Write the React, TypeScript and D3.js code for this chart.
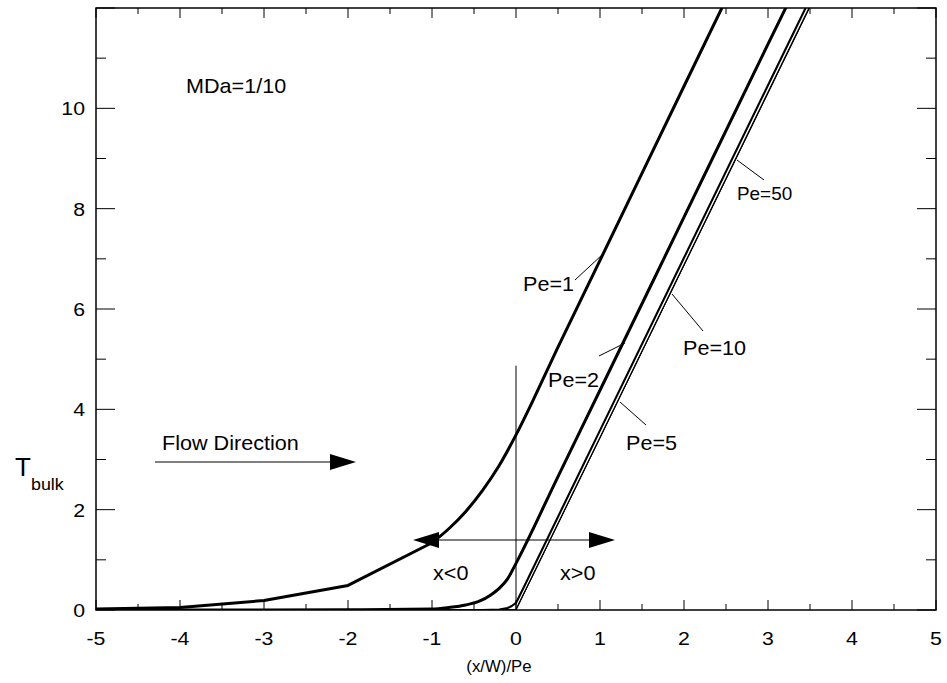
import { useRef, useEffect } from 'react';
import * as d3 from 'd3';

// T_bulk vs (x/W)/Pe
const pe1X = [-5, -4, -3, -2, -1, -0.8, -0.6, -0.4, -0.2, 0, 0.2, 0.5, 1, 2, 3];
const pe1T = [0.02, 0.05, 0.19, 0.49, 1.34, 1.62, 1.96, 2.38, 2.88, 3.49, 4.17, 5.24, 6.97, 10.44, 13.9];

const pe2X = [-5, -3, -2, -1, -0.8, -0.6, -0.43, -0.3, -0.2, -0.1, 0, 0.5, 1, 2, 3, 4];
const pe2T = [0, 0, 0.005, 0.02, 0.05, 0.1, 0.18, 0.3, 0.43, 0.62, 0.93, 2.66, 4.38, 7.83, 11.28, 14.7];

const pe5X = [-5, -0.4, -0.2, -0.1, -0.05, 0, 0.1, 1, 2, 3, 4];
const pe5T = [0, 0, 0.01, 0.04, 0.08, 0.14, 0.48, 3.58, 7.02, 10.46, 13.9];

const pe10X = [-5, -0.05, 0, 1, 2, 3, 4];
const pe10T = [0, 0, 0.01, 3.44, 6.88, 10.32, 13.76];

const pe50X = [-5, 0, 1, 2, 3, 4];
const pe50T = [0, 0, 3.43, 6.87, 10.3, 13.74];

const xTicks = [-5, -4, -3, -2, -1, 0, 1, 2, 3, 4, 5];
const yTicks = [0, 2, 4, 6, 8, 10];

const zip = (xs: number[], ys: number[]) => xs.map((x, i) => ({ x, y: ys[i] }));

export default function App() {
  const svgRef = useRef<SVGSVGElement>(null);
  const width = 947, height = 683;

  useEffect(() => {
    const svg = d3.select(svgRef.current);
    svg.selectAll('*').remove();

    const left = 96, right = 936, top = 8, bottom = 610;
    const x = d3.scaleLinear().domain([-5, 5]).range([left, right]);
    const y = d3.scaleLinear().domain([0, 12]).range([bottom, top]);
    const font = 'Liberation Sans, Arial, Helvetica, sans-serif';

    const txt = (px: number, py: number, s: string, size: number, anchor = 'start', sx = 1.08) => {
      svg.append('text')
        .attr('transform', `translate(${px},${py}) scale(${sx},1)`)
        .attr('font-family', font).attr('font-size', size)
        .attr('text-anchor', anchor).attr('fill', '#000').text(s);
    };

    svg.append('defs').append('clipPath').attr('id', 'plotclip')
      .append('rect').attr('x', left).attr('y', top)
      .attr('width', right - left).attr('height', bottom - top);

    const line = d3.line<{ x: number; y: number }>()
      .x(d => x(d.x)).y(d => y(d.y));
    const smooth = d3.line<{ x: number; y: number }>()
      .x(d => x(d.x)).y(d => y(d.y)).curve(d3.curveMonotoneX);

    const curves = svg.append('g').attr('clip-path', 'url(#plotclip)');
    const pe1 = zip(pe1X, pe1T);
    const series = [
      { pts: zip(pe50X, pe50T), w: 1, gen: line },
      { pts: zip(pe10X, pe10T), w: 1.3, gen: line },
      { pts: zip(pe5X, pe5T), w: 2.1, gen: line },
      { pts: zip(pe2X, pe2T), w: 3, gen: smooth },
      { pts: pe1.slice(0, 5), w: 3, gen: line },
      { pts: pe1.slice(4), w: 3, gen: smooth },
    ];
    series.forEach(s => {
      curves.append('path').datum(s.pts).attr('d', s.gen)
        .attr('fill', 'none').attr('stroke', '#000')
        .attr('stroke-width', s.w).attr('stroke-linejoin', 'round');
    });

    // vertical line at x=0
    svg.append('line').attr('x1', x(0)).attr('x2', x(0))
      .attr('y1', y(4.87)).attr('y2', y(0))
      .attr('stroke', '#000').attr('stroke-width', 1);

    // frame
    svg.append('rect').attr('x', left).attr('y', top)
      .attr('width', right - left).attr('height', bottom - top)
      .attr('fill', 'none').attr('stroke', '#000').attr('stroke-width', 1.5);

    // x ticks (bottom & top, inside)
    d3.range(-5, 5.01, 0.5).forEach(v => {
      const major = Math.abs(v - Math.round(v)) < 1e-6;
      const len = major ? 10 : 6;
      svg.append('line').attr('x1', x(v)).attr('x2', x(v))
        .attr('y1', bottom).attr('y2', bottom - len).attr('stroke', '#000');
      svg.append('line').attr('x1', x(v)).attr('x2', x(v))
        .attr('y1', top).attr('y2', top + len).attr('stroke', '#000');
    });
    // y ticks (left & right, inside)
    d3.range(0, 12.01, 1).forEach(v => {
      const len = v % 2 === 0 ? 19 : 10;
      svg.append('line').attr('x1', left).attr('x2', left + len)
        .attr('y1', y(v)).attr('y2', y(v)).attr('stroke', '#000');
      svg.append('line').attr('x1', right).attr('x2', right - len)
        .attr('y1', y(v)).attr('y2', y(v)).attr('stroke', '#000');
    });

    xTicks.forEach(v => txt(x(v), 645, String(v), 19, 'middle', 1.12));
    yTicks.forEach(v => txt(85, y(v) + 7, String(v), 19, 'end', 1.12));

    // axis titles
    txt(499, 672, '(x/W)/Pe', 16, 'middle', 1.05);
    txt(15, 476, 'T', 26, 'start', 1.0);
    txt(31, 490, 'bulk', 17, 'start', 1.05);

    // annotations
    txt(186, 93, 'MDa=1/10', 20);
    txt(162, 450, 'Flow Direction', 20);
    txt(523, 291, 'Pe=1', 20);
    txt(548, 387, 'Pe=2', 20);
    txt(683, 355, 'Pe=10', 20);
    txt(626, 450, 'Pe=5', 20);
    txt(737, 200, 'Pe=50', 17.5);
    txt(433, 580, 'x<0', 20);
    txt(560, 580, 'x>0', 20);

    // leader lines
    const leaders = [
      [575, 280, 603, 254],
      [599, 356, 625, 343],
      [703, 331, 672, 294],
      [646, 425, 620, 402],
      [764, 180, 737, 160],
    ];
    leaders.forEach(([x1, y1, x2, y2]) => {
      svg.append('line').attr('x1', x1).attr('y1', y1).attr('x2', x2).attr('y2', y2)
        .attr('stroke', '#000').attr('stroke-width', 1);
    });

    // arrows
    const head = (tipX: number, yy: number, dir: number) => {
      const b = tipX - dir * 26;
      svg.append('path')
        .attr('d', `M${tipX},${yy}L${b},${yy - 8}L${b},${yy + 8}Z`)
        .attr('fill', '#000');
    };
    svg.append('line').attr('x1', 155).attr('x2', 340).attr('y1', 462).attr('y2', 462)
      .attr('stroke', '#000').attr('stroke-width', 1.2);
    head(356, 462, 1);
    svg.append('line').attr('x1', 430).attr('x2', 600).attr('y1', 540).attr('y2', 540)
      .attr('stroke', '#000').attr('stroke-width', 1.2);
    head(413, 540, -1);
    head(615, 540, 1);
  }, []);

  return (
    <svg ref={svgRef} width={width} height={height}
      style={{ position: 'absolute', left: 0, top: 0, background: '#fff' }} />
  );
}
